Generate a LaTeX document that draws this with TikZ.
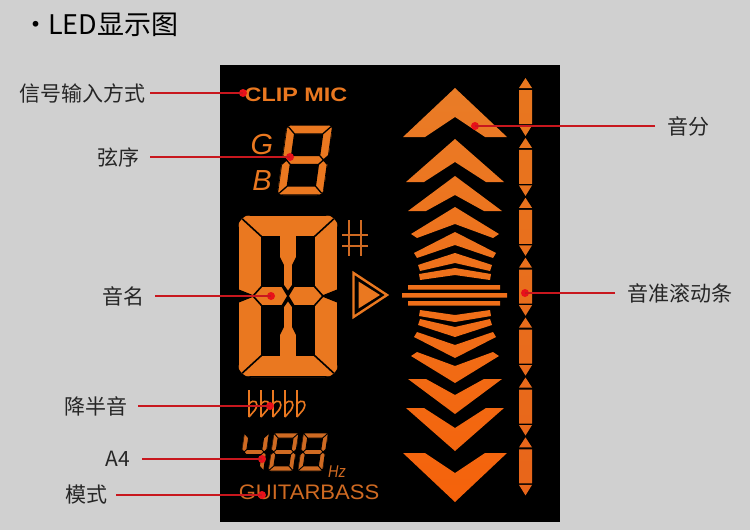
\documentclass[tikz,border=0pt]{standalone}
\usepackage{fontspec}
\setmainfont{Liberation Sans}
\newfontfamily\cjk{Noto Sans CJK SC}
\definecolor{bgc}{HTML}{D0D0D0}
\definecolor{labelc}{HTML}{262626}
\definecolor{leadc}{HTML}{C8171E}
\definecolor{dotc}{HTML}{E8101A}
\definecolor{lcd}{HTML}{EA7820}
\definecolor{lcdtop}{HTML}{E97C27}
\definecolor{lcdbot}{HTML}{F5620B}
\definecolor{bartop}{HTML}{E8771F}
\definecolor{barbot}{HTML}{E8651A}
\definecolor{dimc}{HTML}{CF6A22}
\newcommand\sgA{(-\dga,-\dgb) -- (\dga,-\dgb) -- ({\dga-\dgt},{-\dgb+\dgt}) -- ({-\dga+\dgt},{-\dgb+\dgt}) -- cycle }
\newcommand\sgB{(\dga,-\dgb) -- (\dga,-\dgm) -- ({\dga-\dgm},0) -- ({\dga-\dgt},-\dgm) -- ({\dga-\dgt},{-\dgb+\dgt}) -- cycle }
\newcommand\sgC{(\dga,\dgb) -- (\dga,\dgm) -- ({\dga-\dgm},0) -- ({\dga-\dgt},\dgm) -- ({\dga-\dgt},{\dgb-\dgt}) -- cycle }
\newcommand\sgD{(-\dga,\dgb) -- (\dga,\dgb) -- ({\dga-\dgt},{\dgb-\dgt}) -- ({-\dga+\dgt},{\dgb-\dgt}) -- cycle }
\newcommand\sgE{(-\dga,\dgb) -- (-\dga,\dgm) -- ({-\dga+\dgm},0) -- ({-\dga+\dgt},\dgm) -- ({-\dga+\dgt},{\dgb-\dgt}) -- cycle }
\newcommand\sgF{(-\dga,-\dgb) -- (-\dga,-\dgm) -- ({-\dga+\dgm},0) -- ({-\dga+\dgt},-\dgm) -- ({-\dga+\dgt},{-\dgb+\dgt}) -- cycle }
\newcommand\sgG{({-\dga+\dgm},0) -- ({-\dga+\dgt},-\dgm) -- ({\dga-\dgt},-\dgm) -- ({\dga-\dgm},0) -- ({\dga-\dgt},\dgm) -- ({-\dga+\dgt},\dgm) -- cycle }
\begin{document}
\begin{tikzpicture}[x=1pt,y=-1pt,
  lbl/.style={font=\cjk\fontsize{21}{25}\selectfont, text=labelc, inner sep=0pt},
  lead/.style={draw=leadc, line width=1.1pt},
  dotm/.style={circle, fill=dotc, inner sep=0pt, minimum size=8pt},
  lcdseg/.style={fill=lcd, draw=black, line width=1.3pt, line join=miter},
  dimseg/.style={fill=dimc, draw=black, line width=0.9pt, line join=miter},
]
\fill[bgc] (0,0) rectangle (750,530);
\useasboundingbox (0,0) rectangle (750,530);

\node[anchor=west, font=\cjk\fontsize{27}{31}\selectfont, inner sep=0pt, text=black] (title) at (22,25) {•\hspace{-7pt} LED显示图};

% panel
\fill[black] (220,65) rectangle (560,522);

% CLIP MIC
\node[font=\bfseries\fontsize{19.5}{22}\selectfont, text=lcd, inner sep=0pt] (clip) at (296,95) {\scalebox{1.2}[1]{CLIP MIC}};

% G / B
\node[font=\itshape\fontsize{29}{32}\selectfont, text=lcd, inner sep=0pt] (gch) at (262,145) {G};
\node[font=\itshape\fontsize{29}{32}\selectfont, text=lcd, inner sep=0pt] (bch) at (262,181) {B};

% small digit 8
\begin{scope}[shift={(305,160)}, xslant=0.14]
  \def\dga{23}\def\dgb{35}\def\dgt{9}\def\dgm{4.5}
  \begin{scope}
    \clip[rounded corners=6pt] (-\dga,-\dgb) rectangle (\dga,\dgb);
    \path[lcdseg] \sgA \sgB \sgC \sgD \sgE \sgF \sgG;
  \end{scope}
\end{scope}

% big digit
\begin{scope}
  \clip[rounded corners=13pt] (238,215) rectangle (338,377);
  \path[lcdseg, line width=1.6pt]
   (238,215) -- (338,215) -- (314,237) -- (297,237) -- (297,257) -- (293,265) -- (293,285) -- (288,292) -- (283,285) -- (283,265) -- (279,257) -- (279,237) -- (262,237) -- cycle
   (238,377) -- (338,377) -- (314,355) -- (297,355) -- (297,335) -- (293,327) -- (293,307) -- (288,300) -- (283,307) -- (283,327) -- (279,335) -- (279,355) -- (262,355) -- cycle
   (238,215) -- (262,237) -- (262,286) -- (253,296) -- (238,290) -- cycle
   (238,377) -- (262,355) -- (262,306) -- (253,296) -- (238,302) -- cycle
   (338,215) -- (314,237) -- (314,286) -- (323,296) -- (338,290) -- cycle
   (338,377) -- (314,355) -- (314,306) -- (323,296) -- (338,302) -- cycle
   (253,296) -- (262,286) -- (282,286) -- (288,296) -- (282,306) -- (262,306) -- cycle
   (288,296) -- (294,286) -- (314,286) -- (323,296) -- (314,306) -- (294,306) -- cycle;
\end{scope}

% sharp sign
\draw[dimc, line width=2.3pt] (349,220) -- (349,256) (361,220) -- (361,256) (342,235) -- (368,235) (342,246) -- (368,246);

% triangle indicator
\draw[lcd, line width=2.4pt, line join=miter] (353.5,273) -- (387,295) -- (353.5,317) -- cycle;
\fill[lcd] (358.5,281.5) -- (380,295) -- (358.5,308.5) -- cycle;

% flats
\foreach \fx in {249,261,273,285,297}
  \draw[lcd, line width=1.6pt] (\fx,390) -- (\fx,417) (\fx,404) .. controls (\fx+5,398) and (\fx+11,402) .. (\fx+6,410) -- (\fx,417);

% 488 digits
\begin{scope}[shift={(254,452)}, xslant=0.15]
  \def\dga{12.5}\def\dgb{19}\def\dgt{5}\def\dgm{2.5}
  \begin{scope}
    \clip[rounded corners=3pt] (-\dga,-\dgb) rectangle (\dga,\dgb);
    \path[dimseg] \sgB \sgC \sgF \sgG;
  \end{scope}
\end{scope}
\begin{scope}[shift={(283.5,452)}, xslant=0.15]
  \def\dga{12.5}\def\dgb{19}\def\dgt{5}\def\dgm{2.5}
  \begin{scope}
    \clip[rounded corners=3pt] (-\dga,-\dgb) rectangle (\dga,\dgb);
    \path[dimseg] \sgA \sgB \sgC \sgD \sgE \sgF \sgG;
  \end{scope}
\end{scope}
\begin{scope}[shift={(313,452)}, xslant=0.15]
  \def\dga{12.5}\def\dgb{19}\def\dgt{5}\def\dgm{2.5}
  \begin{scope}
    \clip[rounded corners=3pt] (-\dga,-\dgb) rectangle (\dga,\dgb);
    \path[dimseg] \sgA \sgB \sgC \sgD \sgE \sgF \sgG;
  \end{scope}
\end{scope}
\node[font=\itshape\fontsize{17}{19}\selectfont, text=dimc, inner sep=0pt, anchor=base west] (hz) at (328,477) {\scalebox{0.85}[1]{Hz}};

% GUITARBASS
\node[font=\fontsize{21}{24}\selectfont, text=dimc, inner sep=0pt] (mode) at (309,492.5) {\scalebox{1.05}[1]{GUITARBASS}};

% chevrons
\shade[top color=lcdtop, bottom color=lcdbot]
  \foreach \vA/\vB/\vC/\vD/\vE/\vF in {403/137/425/137/88/117, 406/182/424/182/139/162, 408/211/426/211/176/195, 411/234/417/238/207/224, 414/253/417/258/232/245, 418/265/420/271/253/263, 419/274/420/280/268/275}
  { (\vA,\vB) -- (455,\vE) -- ({910-\vA},\vB) -- ({910-\vC},\vD) -- (455,\vF) -- (\vC,\vD) -- cycle
    (\vA,{590-\vB}) -- (455,{590-\vE}) -- ({910-\vA},{590-\vB}) -- ({910-\vC},{590-\vD}) -- (455,{590-\vF}) -- (\vC,{590-\vD}) -- cycle }
  (408,285) rectangle (500,289.5) (402,293) rectangle (507,297.5) (408,301) rectangle (500,305.5);

% scroll bar
\shade[top color=bartop, bottom color=barbot]
  \foreach \k in {0,...,6}
  { (525.5,{78+59.9*\k}) -- (532,{88+59.9*\k}) -- (519,{88+59.9*\k}) -- cycle
    (519,{90+59.9*\k}) rectangle (532,{124+59.9*\k})
    (519,{125.5+59.9*\k}) -- (532,{125.5+59.9*\k}) -- (525.5,{136+59.9*\k}) -- cycle };

% labels, leads, dots
\node[lbl, anchor=east] (l1) at (146,93) {信号输入方式};
\node[lbl, anchor=east] (l2) at (140,157) {弦序};
\node[lbl, anchor=east] (l3) at (145,296) {音名};
\node[lbl, anchor=east] (l4) at (128,406) {降半音};
\node[lbl, anchor=east] (l5) at (130,459) {A4};
\node[lbl, anchor=east] (l6) at (108,495) {模式};
\node[lbl, anchor=west] (l7) at (667,126) {音分};
\node[lbl, anchor=west] (l8) at (627,293) {音准滚动条};

\node[dotm] (d1) at (243,93) {};
\node[dotm] (d2) at (290,157) {};
\node[dotm] (d3) at (271,296) {};
\node[dotm] (d4) at (270,406) {};
\node[dotm] (d5) at (262,459) {};
\node[dotm] (d6) at (262,495) {};
\node[dotm] (d7) at (475,126) {};
\node[dotm] (d8) at (525,293) {};

\draw[lead, shorten <=4pt] (l1.east) -- (d1.center);
\draw[lead, shorten <=10pt] (l2.east) -- (d2.center);
\draw[lead, shorten <=10pt] (l3.east) -- (d3.center);
\draw[lead, shorten <=10pt] (l4.east) -- (d4.center);
\draw[lead, shorten <=12pt] (l5.east) -- (d5.center);
\draw[lead, shorten <=8pt] (l6.east) -- (d6.center);
\draw[lead, shorten <=12pt] (l7.west) -- (d7.center);
\draw[lead, shorten <=12pt] (l8.west) -- (d8.center);
\end{tikzpicture}
\end{document}
